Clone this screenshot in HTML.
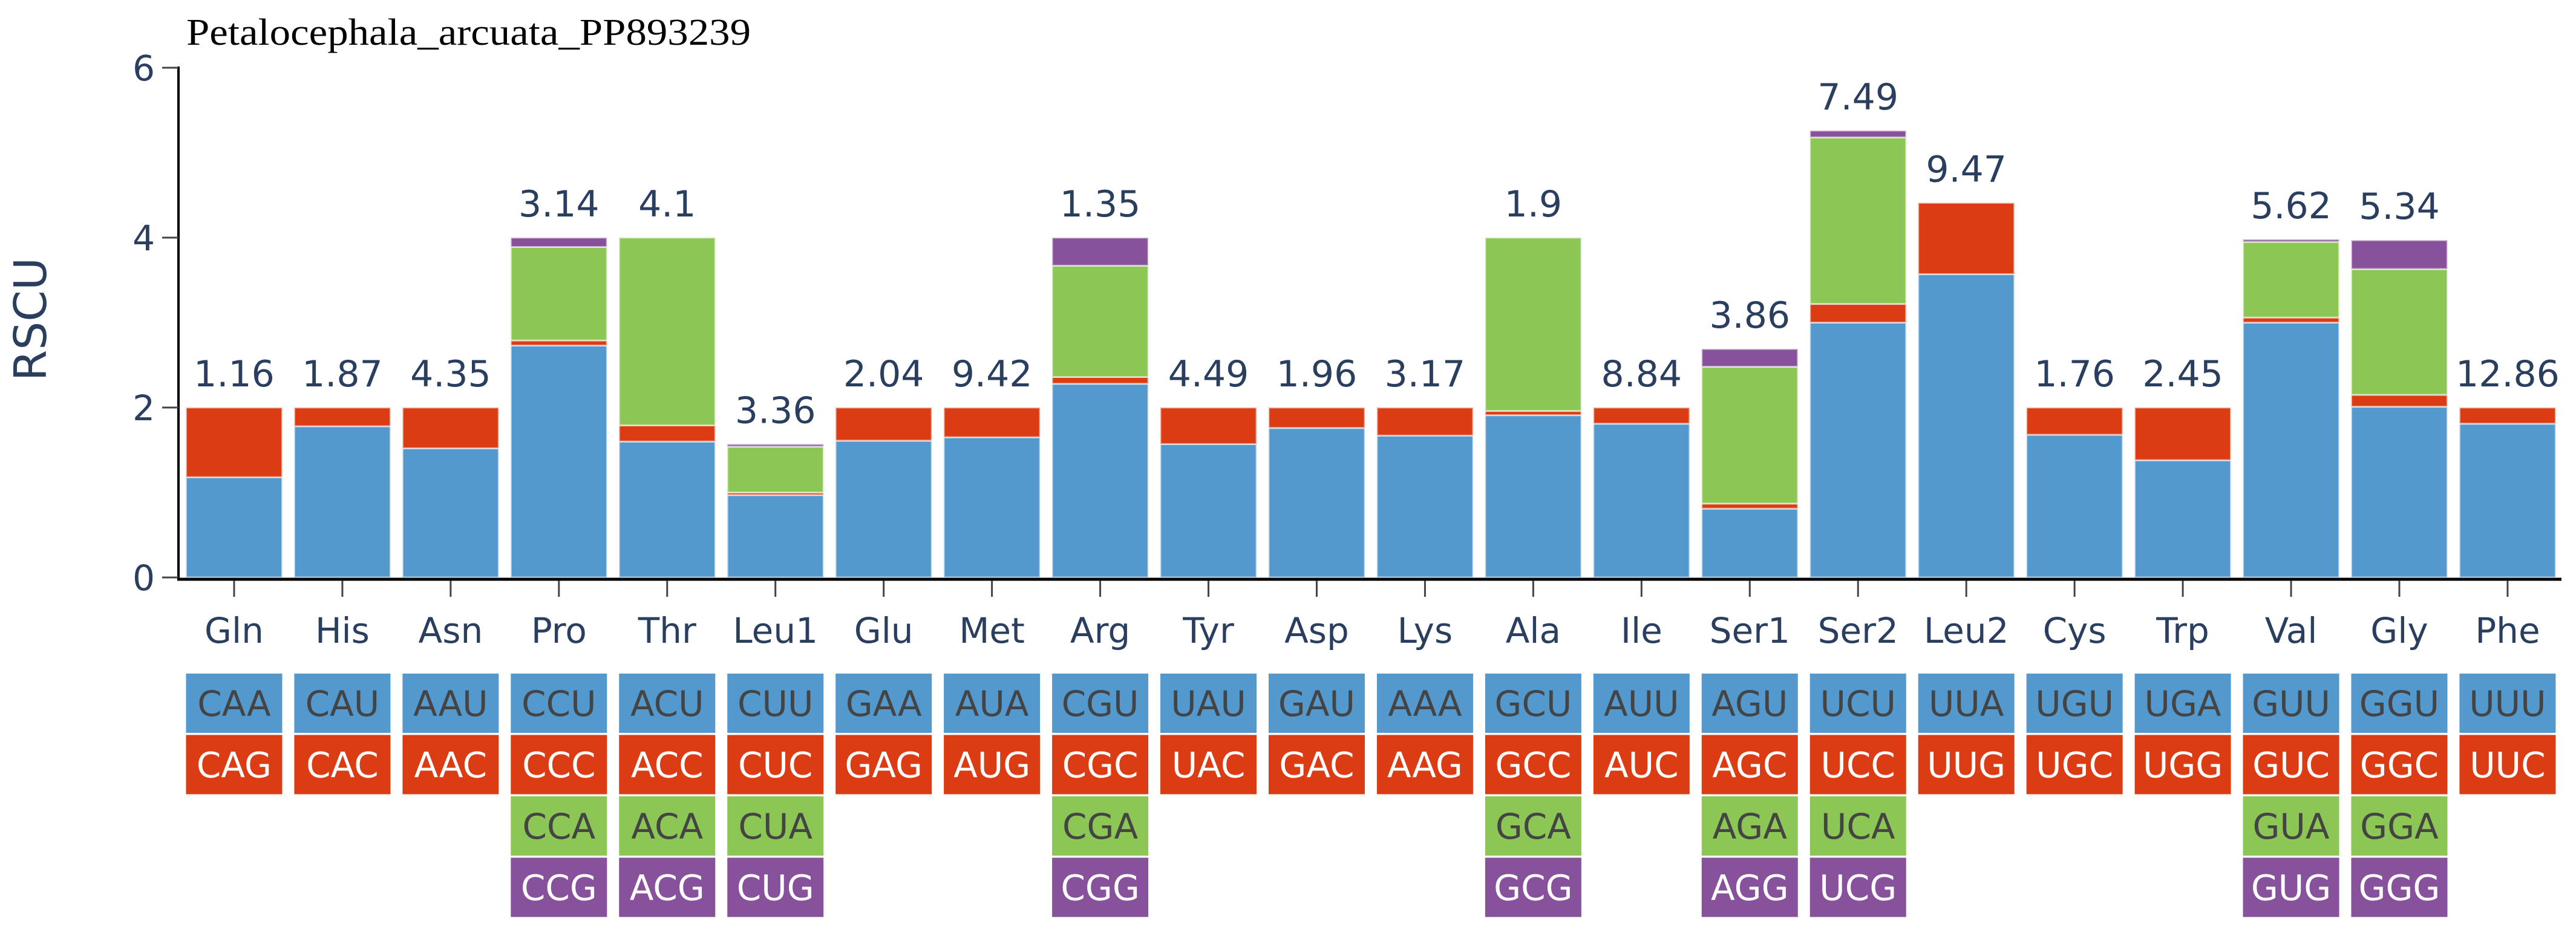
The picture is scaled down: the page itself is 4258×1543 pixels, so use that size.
<!DOCTYPE html>
<html><head><meta charset="utf-8"><style>
html,body{margin:0;padding:0;background:#fff;}
svg{display:block;}
</style></head><body>
<svg id="chart" width="4258" height="1543" viewBox="0 0 4258 1543" xmlns="http://www.w3.org/2000/svg">
<text x="308" y="74" font-family="Liberation Serif, serif" font-size="62" fill="#000" textLength="933" lengthAdjust="spacingAndGlyphs">Petalocephala_arcuata_PP893239</text>
<text transform="translate(76,528) rotate(-90)" text-anchor="middle" font-family="DejaVu Sans, sans-serif" font-size="74" fill="#2a3f5f">RSCU</text>
<g id="yaxis"></g>
<g id="bars"></g>
<g id="xaxis"></g>
<g id="codons"></g>
</svg>
<script>
const categories = ["Gln","His","Asn","Pro","Thr","Leu1","Glu","Met","Arg","Tyr","Asp","Lys","Ala","Ile","Ser1","Ser2","Leu2","Cys","Trp","Val","Gly","Phe"];
const blueVals   = [1.18,1.78,1.52,2.73,1.60,0.97,1.61,1.65,2.28,1.57,1.76,1.67,1.91,1.81,0.81,3.00,3.57,1.68,1.38,3.00,2.01,1.81];
const redVals    = [0.82,0.22,0.48,0.06,0.19,0.03,0.39,0.35,0.08,0.43,0.24,0.33,0.05,0.19,0.06,0.22,0.84,0.32,0.62,0.06,0.14,0.19];
const greenVals  = [0,0,0,1.10,2.21,0.54,0,0,1.31,0,0,0,2.04,0,1.61,1.96,0,0,0,0.89,1.48,0];
const purpleVals = [0,0,0,0.11,0,0.03,0,0,0.33,0,0,0,0,0,0.21,0.08,0,0,0,0.03,0.34,0];
const labels = ["1.16","1.87","4.35","3.14","4.1","3.36","2.04","9.42","1.35","4.49","1.96","3.17","1.9","8.84","3.86","7.49","9.47","1.76","2.45","5.62","5.34","12.86"];
const codon1 = ["CAA","CAU","AAU","CCU","ACU","CUU","GAA","AUA","CGU","UAU","GAU","AAA","GCU","AUU","AGU","UCU","UUA","UGU","UGA","GUU","GGU","UUU"];
const codon2 = ["CAG","CAC","AAC","CCC","ACC","CUC","GAG","AUG","CGC","UAC","GAC","AAG","GCC","AUC","AGC","UCC","UUG","UGC","UGG","GUC","GGC","UUC"];
const codon3 = ["","","","CCA","ACA","CUA","","","CGA","","","","GCA","","AGA","UCA","","","","GUA","GGA",""];
const codon4 = ["","","","CCG","ACG","CUG","","","CGG","","","","GCG","","AGG","UCG","","","","GUG","GGG",""];
const yTicks = [0,2,4,6];

const NS="http://www.w3.org/2000/svg";
const x0=297.5, pitch=178.95, bw=159, y0=955, ppu=140.5;
const xc = i => x0 + pitch*(i+0.5);
const yv = v => y0 - v*ppu;
const colors=["#5499cd","#dc3c14","#8cc654","#87519b"];
const txtCol=["#444","#fff","#444","#fff"];
function mk(tag, attrs, parent){const e=document.createElementNS(NS,tag);for(const k in attrs)e.setAttribute(k,attrs[k]);parent.appendChild(e);return e;}

const ya=document.getElementById('yaxis');
mk('line',{x1:295,y1:110,x2:295,y2:960,stroke:'#000','stroke-width':4},ya);
yTicks.forEach(t=>{
  const l=mk('line',{x1:268,y1:yv(t),x2:295,y2:yv(t),stroke:'#444','stroke-width':3},ya);
  
  
  const tx=mk('text',{x:256,y:yv(t)+21,'text-anchor':'end','font-family':'DejaVu Sans, sans-serif','font-size':58,fill:'#2a3f5f'},ya);
  tx.textContent=t;
  
  
});

const bars=document.getElementById('bars');
const series=[blueVals,redVals,greenVals,purpleVals];
categories.forEach((c,i)=>{
  let base=0;
  series.forEach((s,k)=>{
    const v=s[i]; if(v<=0) return;
    const r=mk('rect',{x:xc(i)-bw/2,y:yv(base+v),width:bw,height:v*ppu,fill:colors[k],stroke:'rgba(255,255,255,0.55)','stroke-width':3},bars);
    
    
    base+=v;
  });
  const t=mk('text',{x:xc(i),y:yv(base)-35,'text-anchor':'middle','font-family':'DejaVu Sans, sans-serif','font-size':60,fill:'#2a3f5f'},bars);
  t.textContent=labels[i];
  
  
});

const xa=document.getElementById('xaxis');
mk('line',{x1:293,y1:958,x2:4234,y2:958,stroke:'#000','stroke-width':5},xa);
categories.forEach((c,i)=>{
  const l=mk('line',{x1:xc(i),y1:960,x2:xc(i),y2:987,stroke:'#444','stroke-width':3},xa);
  
  
  const t=mk('text',{x:xc(i),y:1063,'text-anchor':'middle','font-family':'DejaVu Sans, sans-serif','font-size':58,fill:'#2a3f5f'},xa);
  t.textContent=c;
  
  
});

const cg=document.getElementById('codons');
const rows=[codon1,codon2,codon3,codon4];
rows.forEach((row,k)=>{
  const top=1114+k*101.5;
  row.forEach((cd,i)=>{
    if(!cd) return;
    const r=mk('rect',{x:xc(i)-bw/2,y:top,width:bw,height:98,fill:colors[k]},cg);
    
    
    const t=mk('text',{x:xc(i),y:top+70,'text-anchor':'middle','font-family':'DejaVu Sans, sans-serif','font-size':58,fill:txtCol[k]},cg);
    t.textContent=cd;
    
    
  });
});
</script>
</body></html>
